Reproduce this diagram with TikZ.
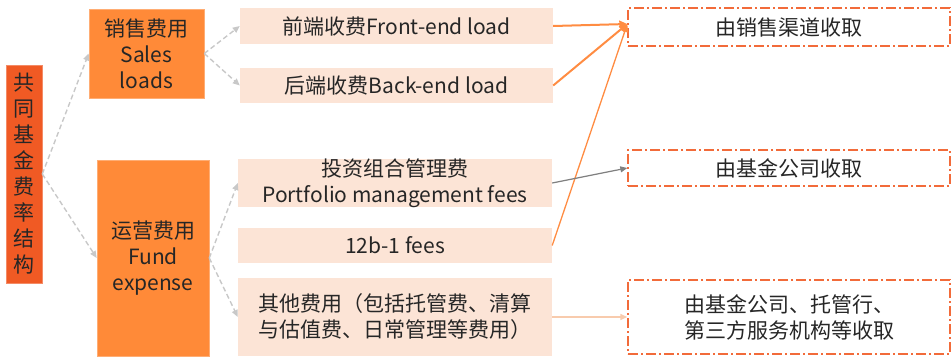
\documentclass[tikz,border=0pt]{standalone}
\usepackage{fontspec}
\setmainfont{Noto Sans CJK SC}
\usetikzlibrary{arrows.meta}
\definecolor{leftc}{HTML}{F05A24}
\definecolor{midc}{HTML}{FF8A38}
\definecolor{lightc}{HTML}{FCE4D6}
\definecolor{dashc}{HTML}{F26B3A}
\definecolor{arrc}{HTML}{FF8C42}
\definecolor{grayd}{HTML}{C8C8C8}
\definecolor{grays}{HTML}{808080}
\definecolor{palec}{HTML}{F8CBAD}
\tikzset{
  txt/.style={font=\fontsize{21}{26}\selectfont, text=black!85, align=center, inner sep=0pt},
  leftbox/.style={txt, fill=leftc, draw=leftc!70!white, line width=0.6pt},
  midbox/.style={txt, fill=midc, draw=midc!70!white, line width=0.6pt},
  lightbox/.style={txt, fill=lightc},
  rbox/.style={txt, draw=dashc, line width=1.4pt, dash pattern=on 10pt off 3pt on 2pt off 3pt},
  garr/.style={draw=grayd, line width=1.4pt, dash pattern=on 5pt off 3pt, -{Triangle[length=7pt,width=6pt]}},
  oarr/.style={draw=arrc, line width=2pt, -{Triangle[length=8pt,width=7pt]}},
}
\begin{document}
\begin{tikzpicture}[x=1pt,y=-1pt]
\useasboundingbox (0,0) rectangle (952,356);
\node[leftbox, minimum width=36pt, minimum height=218pt] (L) at (24,174) {共\\同\\基\\金\\费\\率\\结\\构};
\node[midbox, minimum width=115pt, minimum height=89pt] (S) at (146.5,53.5) {销售费用\\Sales\\loads};
\node[midbox, minimum width=112pt, minimum height=196pt] (F) at (153,258) {运营费用\\Fund\\expense};
\node[lightbox, minimum width=313pt, minimum height=36pt] (FE) at (396.5,26) {前端收费Front-end load};
\node[lightbox, minimum width=313pt, minimum height=35pt] (BE) at (396.5,85.5) {后端收费Back-end load};
\node[lightbox, minimum width=314pt, minimum height=48pt] (PF) at (395,183) {投资组合管理费\\Portfolio management fees};
\node[lightbox, minimum width=314pt, minimum height=35pt] (B12) at (395,245.5) {12b-1 fees};
\node[lightbox, minimum width=314pt, minimum height=78pt] (OT) at (395,317) {其他费用（包括托管费、清算\\与估值费、日常管理等费用）};
\node[rbox, minimum width=322pt, minimum height=38pt] (R1) at (789,27) {由销售渠道收取};
\node[rbox, minimum width=322pt, minimum height=36pt] (R2) at (789,168) {由基金公司收取};
\node[rbox, minimum width=322pt, minimum height=74pt] (R3) at (789,317) {由基金公司、托管行、\\第三方服务机构等收取};
\coordinate (R1in) at ([yshift=3pt]R1.west);
\draw[garr] (L.east) -- (S.west);
\draw[garr] (L.east) -- (F.west);
\draw[garr] (S.east) -- (FE.west);
\draw[garr] (S.east) -- (BE.west);
\draw[garr] (F.east) -- (PF.west);
\draw[garr] (F.east) -- (OT.west);
\draw[oarr] (FE.east) -- (R1in);
\draw[oarr] (BE.east) -- (R1in);
\draw[oarr, line width=1.3pt] (B12.east) -- (R1in);
\draw[draw=grays, line width=1.2pt, -{Triangle[length=7pt,width=6pt]}] (PF.east) -- (R2.west);
\draw[draw=palec, line width=1.4pt, -{Triangle[length=7pt,width=6pt]}] (OT.east) -- (R3.west);
\end{tikzpicture}
\end{document}
